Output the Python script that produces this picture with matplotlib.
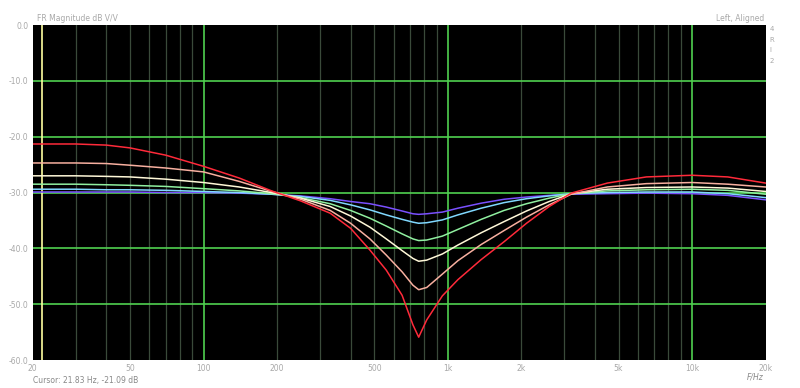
import matplotlib
matplotlib.use('Agg')
import matplotlib.pyplot as plt

# frequencies (Hz)
freqs = [20, 30, 40, 50, 70, 100, 140, 190, 250, 330, 400, 480, 560, 650, 720, 760,
         820, 950, 1100, 1370, 1700, 2100, 2600, 3200, 4500, 6500, 10000, 14000, 20000]

# magnitude in dB, one list per curve (deepest first)
red = [-21.3, -21.3, -21.5, -22.0, -23.3, -25.3, -27.4, -29.7, -31.5, -33.7, -36.4, -40.3, -43.9,
       -48.4, -53.7, -55.9, -52.8, -48.5, -45.6, -42.0, -38.8, -35.5, -32.5, -30.1, -28.3, -27.2,
       -26.9, -27.2, -28.3]
salmon = [-24.7, -24.7, -24.8, -25.1, -25.6, -26.3, -28.0, -29.8, -31.2, -33.2, -35.5, -38.3, -41.2,
          -44.2, -46.6, -47.4, -47.0, -44.6, -42.2, -39.3, -36.8, -34.4, -32.2, -30.3, -29.0, -28.4,
          -28.2, -28.5, -29.0]
cream = [-27.0, -27.0, -27.1, -27.2, -27.6, -28.2, -29.0, -30.0, -31.0, -32.5, -34.2, -36.2, -38.3,
         -40.4, -41.8, -42.3, -42.1, -41.0, -39.4, -37.2, -35.2, -33.3, -31.6, -30.2, -29.4, -29.1,
         -29.0, -29.2, -29.8]
green = [-28.5, -28.5, -28.6, -28.7, -28.9, -29.3, -29.7, -30.2, -30.9, -32.0, -33.2, -34.6, -36.0,
         -37.4, -38.3, -38.6, -38.5, -37.8, -36.6, -34.8, -33.2, -32.0, -31.0, -30.2, -29.7, -29.5,
         -29.4, -29.6, -30.3]
cyan = [-29.4, -29.4, -29.5, -29.5, -29.6, -29.8, -30.0, -30.3, -30.7, -31.4, -32.2, -33.1, -34.0,
        -34.8, -35.3, -35.5, -35.4, -34.9, -34.0, -32.8, -31.8, -31.1, -30.6, -30.2, -30.0, -29.9,
        -29.9, -30.2, -30.9]
blue = [-29.9, -29.9, -29.9, -29.9, -30.0, -30.0, -30.1, -30.3, -30.6, -31.1, -31.6, -32.0, -32.6,
        -33.3, -33.8, -33.9, -33.8, -33.5, -32.8, -31.9, -31.2, -30.8, -30.5, -30.3, -30.2, -30.1,
        -30.2, -30.5, -31.3]

curves = [blue, cyan, green, cream, salmon, red]
colors = ['#7a50ff', '#80d8ff', '#90f0a0', '#fff8d8', '#f8b0a0', '#ff2a3a']

xticks = [20, 50, 100, 200, 500, 1000, 2000, 5000, 10000, 20000]
xlabels = ['20', '50', '100', '200', '500', '1k', '2k', '5k', '10k', '20k']
yticks = [0, -10, -20, -30, -40, -50, -60]
ylabels = ['0.0', '-10.0', '-20.0', '-30.0', '-40.0', '-50.0', '-60.0']

cursor_f = 21.83
txt = '#a8a8a8'

fig = plt.figure(figsize=(8, 3.88), dpi=100)
ax = fig.add_axes([0.041, 0.072, 0.916, 0.8634])
ax.set_facecolor('black')
ax.set_xscale('log')
ax.set_xlim(20, 20000)
ax.set_ylim(-60, 0)

# log grid: dim minor lines, bright at decades
for dec in [10, 100, 1000, 10000]:
    for m in range(1, 10):
        f = dec * m
        if f <= 20 or f >= 20000:
            continue
        if m == 1:
            ax.axvline(f, color='#50d050', lw=1.2, zorder=1)
        else:
            ax.axvline(f, color='#3a4a3a', lw=0.9, zorder=1)
for y in yticks[1:-1]:
    ax.axhline(y, color='#50d050', lw=1.2, zorder=1)

ax.axvline(cursor_f, color='#ffffa0', lw=1.2, zorder=2)

for vals, c in zip(curves, colors):
    ax.plot(freqs, vals, color=c, lw=1.1, zorder=3)

ax.set_xticks(xticks)
ax.set_xticklabels(xlabels)
ax.set_xticks([], minor=True)
ax.set_yticks(yticks)
ax.set_yticklabels(ylabels)
ax.tick_params(length=0, labelsize=5.5, labelcolor=txt, pad=3)
for s in ax.spines.values():
    s.set_visible(False)

fig.text(0.046, 0.94, 'FR Magnitude dB V/V', fontsize=5.5, color=txt, va='bottom')
fig.text(0.955, 0.94, 'Left, Aligned', fontsize=5.5, color=txt, va='bottom', ha='right')
for i, s in enumerate(['4', 'R', 'I', '2']):
    fig.text(0.962, 0.925 - i * 0.027, s, fontsize=5, color=txt, va='center')
fig.text(0.041, 0.012, 'Cursor: 21.83 Hz, -21.09 dB', fontsize=5.5, color='#888888')
fig.text(0.955, 0.022, 'F/Hz', fontsize=5.5, color='#888888', ha='right', style='italic')

fig.savefig('out.png', dpi=100, facecolor='white')
